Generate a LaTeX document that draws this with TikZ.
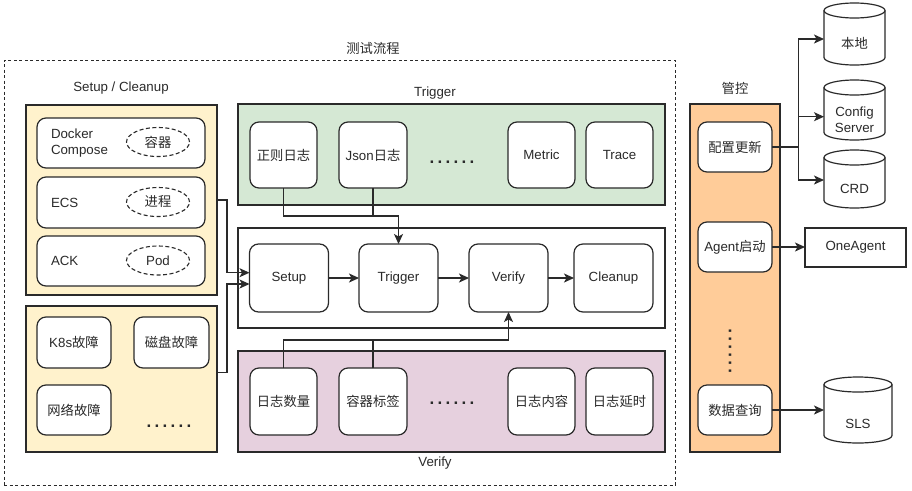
\documentclass[tikz,border=0pt]{standalone}
\usepackage{fontspec}
\setmainfont{Liberation Sans}
\newfontfamily\cjk{Noto Sans CJK SC}
\usetikzlibrary{arrows.meta,shapes.geometric}
\definecolor{ink}{HTML}{2A2A2A}
\definecolor{yelfill}{HTML}{FFF2CC}
\definecolor{grnfill}{HTML}{D5E8D4}
\definecolor{pnkfill}{HTML}{E6D0DE}
\definecolor{orgfill}{HTML}{FFCC99}
\newcommand\mydotrow{{\fontsize{17}{17}\selectfont\bfseries .\kern3.3pt.\kern3.3pt.\kern3.3pt.\kern3.3pt.\kern3.3pt.}}
\newcommand\cyl[4]{%
  \pgfmathsetmacro\cylrx{(#3-#1)/2}%
  \draw[cylst] (#1,#2+7.5) -- (#1,#4-7.5)
    arc[start angle=180,end angle=360,x radius=\cylrx pt,y radius=7.5pt]
    -- (#3,#2+7.5)
    arc[start angle=0,end angle=180,x radius=\cylrx pt,y radius=7.5pt] -- cycle;
  \draw[ln] (#1,#2+7.5) arc[start angle=180,end angle=360,x radius=\cylrx pt,y radius=7.5pt];}
\begin{document}
\begin{tikzpicture}[x=1pt,y=-1pt,
  font=\fontsize{13.3}{16}\selectfont, text=ink,
  every node/.style={inner sep=0pt, outer sep=0pt},
  grp/.style={draw=ink, line width=1.2pt, rectangle},
  card/.style={draw=ink, line width=1.2pt, rounded corners=9pt, fill=white, align=center},
  tagshape/.style={draw=ink, line width=1.1pt, ellipse, dash pattern=on 4pt off 2.5pt, fill=white, minimum width=63pt, minimum height=29pt},
  arr/.style={draw=ink, line width=1.2pt, -{Stealth[length=10pt,width=9pt,inset=2.5pt]}},
  ln/.style={draw=ink, line width=1.2pt},
  cylst/.style={draw=ink, line width=1.2pt, fill=white}]
\useasboundingbox (0,0) rectangle (912,490);

% outer dashed frame
\node[draw=ink, line width=0.9pt, dash pattern=on 3pt off 2.5pt, minimum width=671pt, minimum height=425pt] (outer) at (339.5,272.5) {};
\node (title) at (373,48) {\cjk 测试流程};

% Setup / Cleanup
\node (sclbl) at (121,88) {Setup / Cleanup};
\node[grp, fill=yelfill, minimum width=191pt, minimum height=190pt] (ysetup) at (121.5,200) {};
\node[card, minimum width=168pt, minimum height=50pt] (dc) at (121,143) {};
\node[card, minimum width=168pt, minimum height=51pt] (ecs) at (121,202.5) {};
\node[card, minimum width=168pt, minimum height=50pt] (ack) at (121,261) {};
\node[anchor=west, align=left] (dctxt) at (51,143) {Docker\\Compose};
\node[anchor=west] (ecstxt) at (51,202.5) {ECS};
\node[anchor=west] (acktxt) at (51,261) {ACK};
\node[tagshape] (t1) at (158,142) {\cjk 容器};
\node[tagshape] (t2) at (158,202) {\cjk 进程};
\node[tagshape] (t3) at (158,260.5) {Pod};

% faults
\node[grp, fill=yelfill, minimum width=191pt, minimum height=146pt] (yfault) at (121.5,379) {};
\node[card, minimum width=74pt, minimum height=51pt] (k8s) at (74,342.5) {K8s{\cjk 故障}};
\node[card, minimum width=75pt, minimum height=51pt] (disk) at (171.5,342.5) {\cjk 磁盘故障};
\node[card, minimum width=74pt, minimum height=50pt] (net) at (74,410) {\cjk 网络故障};
\node (fdots) at (169,426) {\mydotrow};

% Trigger group
\node (trglbl) at (435,93) {Trigger};
\node[grp, fill=grnfill, minimum width=427pt, minimum height=101pt] (trg) at (451.5,154.5) {};
\node[card, minimum width=67pt, minimum height=66pt] (zz) at (283.5,155) {\cjk 正则日志};
\node[card, minimum width=68pt, minimum height=66pt] (json) at (373,155) {Json{\cjk 日志}};
\node (gdots) at (452,162) {\mydotrow};
\node[card, minimum width=67pt, minimum height=66pt] (metric) at (541.5,155) {Metric};
\node[card, minimum width=67pt, minimum height=66pt] (trace) at (619.5,155) {Trace};

% flow
\node[grp, fill=white, minimum width=427pt, minimum height=100pt] (flow) at (451.5,278) {};
\node[card, minimum width=79pt, minimum height=68pt] (setup) at (289,278) {Setup};
\node[card, minimum width=79pt, minimum height=68pt] (trig) at (398.5,278) {Trigger};
\node[card, minimum width=79pt, minimum height=68pt] (ver) at (508.5,278) {Verify};
\node[card, minimum width=79pt, minimum height=68pt] (clean) at (613.5,278) {Cleanup};

% Verify group
\node[grp, fill=pnkfill, minimum width=427pt, minimum height=101pt] (vfy) at (451.5,401.5) {};
\node (vfylbl) at (435,463) {Verify};
\node[card, minimum width=67pt, minimum height=67pt] (cnt) at (283.5,401.5) {\cjk 日志数量};
\node[card, minimum width=68pt, minimum height=67pt] (ctag) at (373,401.5) {\cjk 容器标签};
\node (vdots) at (452,403) {\mydotrow};
\node[card, minimum width=67pt, minimum height=67pt] (content) at (541.5,401.5) {\cjk 日志内容};
\node[card, minimum width=67pt, minimum height=67pt] (delay) at (619.5,401.5) {\cjk 日志延时};

% control
\node (mglbl) at (735,88) {\cjk 管控};
\node[grp, fill=orgfill, minimum width=90pt, minimum height=348pt] (mg) at (735,278) {};
\node[card, minimum width=74pt, minimum height=50pt] (cfg) at (735,147) {\cjk 配置更新};
\node[card, minimum width=74pt, minimum height=50pt] (agent) at (735,247) {Agent{\cjk 启动}};
\node[rotate=90] (mdots) at (730,351) {\mydotrow};
\node[card, minimum width=74pt, minimum height=50pt] (query) at (735,410) {\cjk 数据查询};

% right targets
\node[grp, fill=white, minimum width=101pt, minimum height=39pt] (one) at (855.5,247.5) {OneAgent};
\cyl{824}{3}{885}{65}
\node[minimum width=61pt, minimum height=62pt] (loc) at (854.5,34) {};
\node (loclbl) at (854.5,43) {\cjk 本地};
\cyl{824}{80}{885}{140}
\node[minimum width=61pt, minimum height=60pt] (cfgsrv) at (854.5,110) {};
\node[align=center] (cfgsrvlbl) at (854.5,120) {Config\\Server};
\cyl{824}{150}{885}{208}
\node[minimum width=61pt, minimum height=58pt] (crd) at (854.5,179) {};
\node (crdlbl) at (854.5,189) {CRD};
\cyl{824}{377}{892}{443}
\node[minimum width=68pt, minimum height=66pt] (sls) at (858,410) {};
\node (slslbl) at (858,424) {SLS};

% connectors
\draw[arr] (ysetup.east) -- ++(10,0) |- ([yshift=5.3pt]setup.west);
\draw[arr] ([yshift=6.3pt]yfault.east) -- ++(10,0) |- ([yshift=-6pt]setup.west);
\draw[arr] (setup.east) -- (trig.west);
\draw[arr] (trig.east) -- (ver.west);
\draw[arr] (ver.east) -- (clean.west);
\draw[arr] (zz.south) -- ++(0,28) -| (trig.north);
\draw[ln] (json.south) -- ++(0,28);
\draw[arr] (cnt.north) -- ++(0,-28) -| (ver.south);
\draw[ln] (ctag.north) -- ++(0,-28);
\draw[arr] (cfg.east) -- ++(26.3,0) |- ([yshift=-5pt]loc.west);
\draw[arr] (cfg.east) -- ++(26.3,0) |- ([yshift=-6.7pt]cfgsrv.west);
\draw[arr] (cfg.east) -- ++(26.3,0) |- ([yshift=-1pt]crd.west);
\draw[arr] (agent.east) -- (agent.east -| one.west);
\draw[arr] (query.east) -- (query.east -| sls.west);
\end{tikzpicture}
\end{document}
